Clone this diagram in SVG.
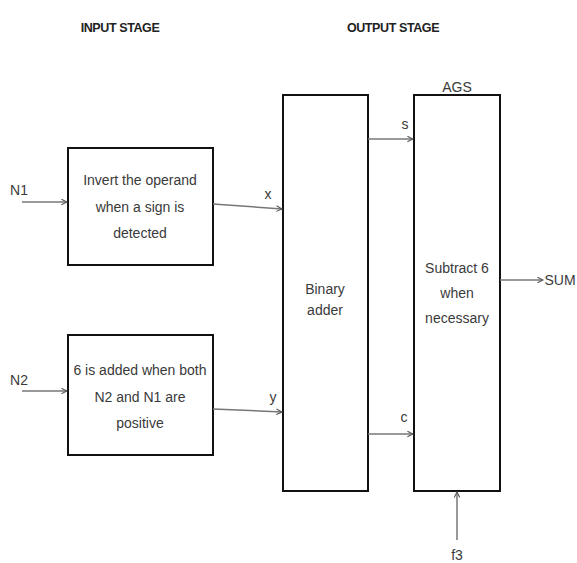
<svg xmlns="http://www.w3.org/2000/svg" width="577" height="563" viewBox="0 0 577 563">
<style>
.box{fill:#fff;stroke:#111;stroke-width:2}
.lbl{font-family:"Liberation Sans",Arial,sans-serif;font-size:14px;fill:#3a3a3a;text-anchor:middle}
.hdr{font-family:"Liberation Sans",Arial,sans-serif;font-size:12.5px;font-weight:bold;fill:#222;text-anchor:middle;letter-spacing:-0.4px}
.wire{fill:none;stroke:#777;stroke-width:1.5;marker-end:url(#ah)}
</style>
<defs>
<marker id="ah" viewBox="0 0 10 10" refX="9" refY="5" markerWidth="7" markerHeight="7" markerUnits="userSpaceOnUse" orient="auto">
<path d="M1,1 L9,5 L1,9" fill="none" stroke="#555" stroke-width="1.5"/>
</marker>
</defs>
<rect width="577" height="563" fill="#fff"/>
<text class="hdr" x="120" y="32">INPUT STAGE</text>
<text class="hdr" x="393" y="32">OUTPUT STAGE</text>
<g id="invert">
<rect class="box" x="68" y="148" width="145" height="117"/>
<text class="lbl" x="140" y="185">Invert the operand</text>
<text class="lbl" x="140" y="212">when a sign is</text>
<text class="lbl" x="140" y="238">detected</text>
</g>
<g id="add6">
<rect class="box" x="68" y="335" width="145" height="120"/>
<text class="lbl" x="140" y="375">6 is added when both</text>
<text class="lbl" x="140" y="402">N2 and N1 are</text>
<text class="lbl" x="140" y="428">positive</text>
</g>
<g id="adder">
<rect class="box" x="283" y="95" width="85" height="396"/>
<text class="lbl" x="325" y="294">Binary</text>
<text class="lbl" x="325" y="315">adder</text>
</g>
<g id="ags">
<rect class="box" x="414" y="95" width="86" height="396"/>
<text class="lbl" x="457" y="92">AGS</text>
<text class="lbl" x="457" y="273">Subtract 6</text>
<text class="lbl" x="457" y="298">when</text>
<text class="lbl" x="457" y="323">necessary</text>
</g>
<g id="connectors">
<line class="wire" x1="22" y1="202" x2="67" y2="202"/>
<line class="wire" x1="22" y1="391" x2="67" y2="391"/>
<line class="wire" x1="213" y1="204" x2="282" y2="209"/>
<line class="wire" x1="213" y1="409" x2="282" y2="412"/>
<line class="wire" x1="368" y1="139" x2="413" y2="139"/>
<line class="wire" x1="368" y1="434" x2="413" y2="434"/>
<line class="wire" x1="500" y1="280" x2="543" y2="280"/>
<line class="wire" x1="457" y1="540" x2="457" y2="492"/>
</g>
<g id="labels">
<text class="lbl" x="19" y="195">N1</text>
<text class="lbl" x="19" y="385">N2</text>
<text class="lbl" x="268" y="199">x</text>
<text class="lbl" x="273" y="402">y</text>
<text class="lbl" x="405" y="129">s</text>
<text class="lbl" x="404" y="422">c</text>
<text class="lbl" x="560" y="285">SUM</text>
<text class="lbl" x="457" y="560">f3</text>
</g>
</svg>
